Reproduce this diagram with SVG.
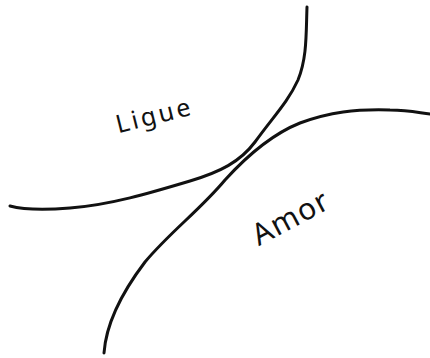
<svg xmlns="http://www.w3.org/2000/svg" width="430" height="358" viewBox="0 0 430 358">
<style>
.c{fill:none;stroke:#111;stroke-width:3;stroke-linecap:round;stroke-linejoin:round}
.t{font-family:"Noto Sans","DejaVu Sans",sans-serif;fill:#111}
</style>
<rect width="430" height="358" fill="#fff"/>
<g id="connectors">
<path class="c" d="M307,7 C306,35 307,58 298,80 C288,102 273,117 255,142 C240,162 220,172 190,181 C150,193 110,205 70,208 C45,210 25,210 10,206"/>
<path class="c" d="M104,353 C106,325 120,295 145,262 C170,232 200,210 225,180 C245,158 270,135 300,123 C330,112 355,109 390,110 C410,110 420,113 430,114"/>
</g>
<g id="ligue">
<text class="t" font-size="25" transform="translate(155,124) rotate(-14)" text-anchor="middle" textLength="76">Ligue</text>
</g>
<g id="amor">
<text class="t" font-size="30" transform="translate(295,227) rotate(-28)" text-anchor="middle" textLength="82">Amor</text>
</g>
</svg>
